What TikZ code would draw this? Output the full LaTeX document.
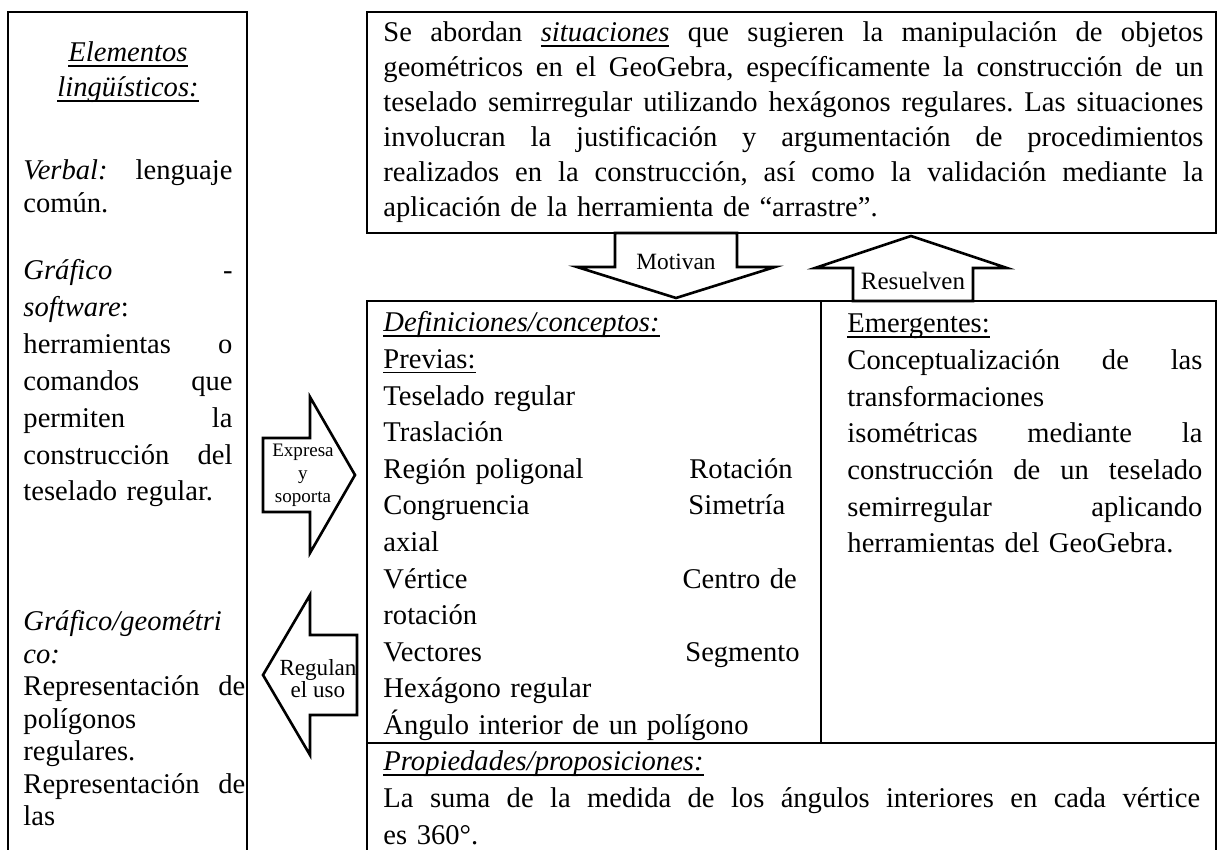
\documentclass[tikz,border=0pt]{standalone}
\usepackage{fontspec}
\setmainfont{Liberation Serif}
\frenchspacing

\newcommand{\jl}[2][\hsize]{\makebox[#1][s]{\spaceskip=0pt\xspaceskip=0pt #2}}
\newcommand{\undl}[1]{\leavevmode\setbox0\hbox{#1}\rlap{\rule[-2pt]{\wd0}{0.65pt}}\box0}

\tikzset{
  boxline/.style={line width=0.85pt},
  blockarrow/.style={line width=1.1pt, fill=white, line join=miter},
  txt/.style={anchor=base west, inner sep=0pt},
  lbl/.style={inner sep=0pt, align=center}
}

\begin{document}
\begin{tikzpicture}[x=0.42pt, y=-0.42pt, font=\fontsize{12}{14.7}\selectfont]
\useasboundingbox (0,0) rectangle (1217,850);
\draw[boxline] (8,860) -- (8,12) -- (247,12) -- (247,860);
\draw[boxline] (367,12) rectangle (1216,233);
\draw[boxline] (367,860) -- (367,301) -- (1216,301) -- (1216,860);
\draw[boxline] (821,301) -- (821,743);
\draw[boxline] (367,743) -- (1216,743);

\node[txt, text width=87.8pt, align=center] (elem) at (23,62) {%
\textit{\undl{Elementos}}\\
\textit{\undl{lingüísticos:}}};
\node[txt, text width=87.8pt, font=\fontsize{12}{13.86}\selectfont] (verbal) at (23,180) {%
\jl{\textit{Verbal:} lenguaje}\\
común.};
\node[txt, text width=87.8pt, font=\fontsize{12}{15.46}\selectfont] (soft) at (23,280) {%
\jl{\textit{Gráfico} -}\\
\textit{software}:\\
\jl{herramientas o}\\
\jl{comandos que}\\
\jl{permiten la}\\
\jl{construcción del}\\
teselado regular.};
\node[txt, text width=93.2pt, font=\fontsize{12}{13.65}\selectfont] (geom) at (23,631) {%
\textit{Gráfico/geométri}\\
\textit{co:}\\
\jl{Representación de}\\
polígonos\\
regulares.\\
\jl{Representación de}\\
las};

\node[txt, text width=344.4pt] (sit) at (383,42) {%
\jl{Se abordan \textit{\undl{situaciones}} que sugieren la manipulación de objetos}\\
\jl{geométricos en el GeoGebra, específicamente la construcción de un}\\
\jl{teselado semirregular utilizando hexágonos regulares. Las situaciones}\\
\jl{involucran la justificación y argumentación de procedimientos}\\
\jl{realizados en la construcción, así como la validación mediante la}\\
aplicación de la herramienta de “arrastre”.};

\node[txt, text width=175pt, font=\fontsize{12}{15.37}\selectfont] (defs) at (383,332) {%
\textit{\undl{Definiciones/conceptos:}}\\
\undl{Previas:}\\
Teselado regular\\
Traslación\\
\makebox[128.5pt][l]{Región poligonal}Rotación\\
\makebox[128.1pt][l]{Congruencia}Simetría\\
axial\\
\makebox[125.6pt][l]{Vértice}Centro de\\
rotación\\
\makebox[126.8pt][l]{Vectores}Segmento\\
Hexágono regular\\
Ángulo interior de un polígono};
\node[txt, text width=149.1pt, font=\fontsize{12}{15.4}\selectfont] (emer) at (847,333) {%
\undl{Emergentes:}\\
\jl{Conceptualización de las}\\
transformaciones\\
\jl{isométricas mediante la}\\
\jl{construcción de un teselado}\\
\jl{semirregular aplicando}\\
herramientas del GeoGebra.};
\node[txt, text width=343pt, font=\fontsize{12}{15.37}\selectfont] (prop) at (383,771) {%
\textit{\undl{Propiedades/proposiciones:}}\\
\jl{La suma de la medida de los ángulos interiores en cada vértice}\\
es 360°.};

\draw[blockarrow] (615,233) -- (615,267) -- (577,267) -- (676,298) -- (775,267) -- (737,267) -- (737,233) -- cycle;
\node[lbl, font=\fontsize{9.8}{11}\selectfont] (motivan) at (676,262) {Motivan};
\draw[blockarrow] (853,301) -- (853,268) -- (815,268) -- (911,236) -- (1007,268) -- (973,268) -- (973,301) -- cycle;
\node[lbl, font=\fontsize{10.5}{12}\selectfont] (resuelven) at (913,281) {Resuelven};
\draw[blockarrow] (263,438) -- (310,438) -- (310,397) -- (355,475) -- (310,553) -- (310,512) -- (263,512) -- cycle;
\node[lbl, font=\fontsize{8}{9.7}\selectfont] (expresa) at (303,475) {Expresa\\y\\soporta};
\draw[blockarrow] (357,635) -- (310,635) -- (310,595) -- (263,675) -- (310,755) -- (310,715) -- (357,715) -- cycle;
\node[lbl, font=\fontsize{9.7}{9.2}\selectfont] (regulan) at (318,679) {Regulan\\el uso};
\end{tikzpicture}
\end{document}
